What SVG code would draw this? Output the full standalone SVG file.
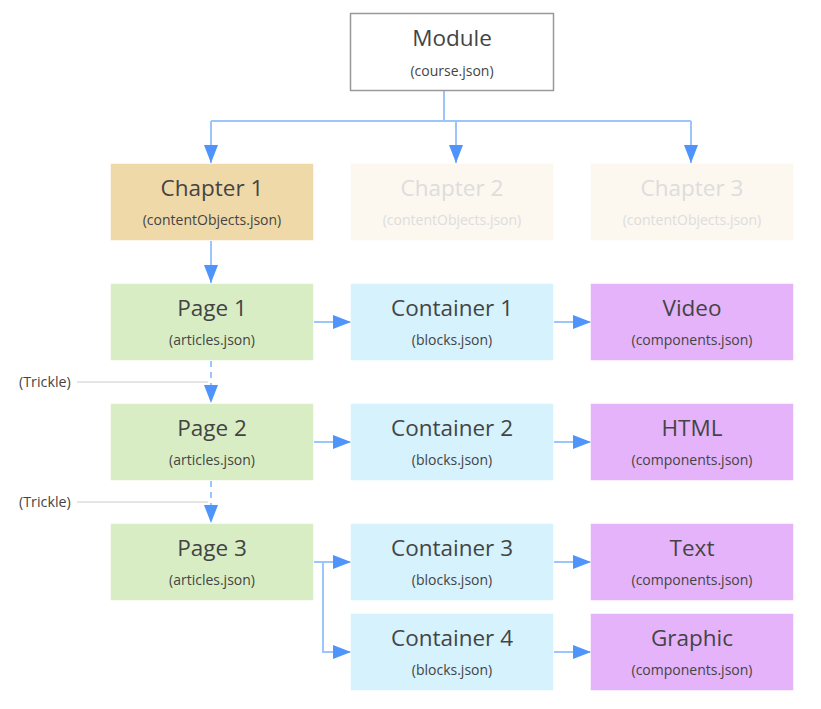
<svg xmlns="http://www.w3.org/2000/svg" width="821" height="709" viewBox="0 0 821 709">
<style>
.t{font-family:"Open Sans","Noto Sans",sans-serif;font-size:22.5px;fill:#444;text-anchor:middle}
.s{font-family:"Open Sans","Noto Sans",sans-serif;font-size:14px;fill:#444;text-anchor:middle}
.f .t,.f .s{fill:#ddd}
.box{stroke:#fff;stroke-opacity:.5;stroke-width:1}
.ch{fill:#f0d9a8}.fd{fill:#fcf7ef}.pg{fill:#d8edc4}.ct{fill:#d5f2fd}.cp{fill:#e5b3fa}
.c{fill:none;stroke:#9cc6fb;stroke-width:2}
.d{stroke-dasharray:6 5}
.tr{font-family:"Open Sans","Noto Sans",sans-serif;font-size:14.3px;fill:#444}
.g{stroke:#ccc;stroke-width:1}
</style>
<defs>
<marker id="a" markerUnits="userSpaceOnUse" markerWidth="18" markerHeight="14" viewBox="0 0 18 14" refX="18" refY="7" orient="auto">
<path d="M0,0 L18,7 L0,14 z" fill="#4f94fa"/>
</marker>
</defs>
<rect width="821" height="709" fill="#fff"/>
<g id="connectors">
<path class="c" d="M444,91 V121 M211,121 H691"/>
<path class="c" d="M211,121 V163" marker-end="url(#a)"/>
<path class="c" d="M456,121 V163" marker-end="url(#a)"/>
<path class="c" d="M691,121 V163" marker-end="url(#a)"/>
<path class="c" d="M211,241 V283" marker-end="url(#a)"/>
<path class="c d" d="M211,361 V403" marker-end="url(#a)"/>
<path class="c d" d="M211,481 V523" marker-end="url(#a)"/>
<path class="c" d="M314,322 H351" marker-end="url(#a)"/>
<path class="c" d="M554,322 H591" marker-end="url(#a)"/>
<path class="c" d="M314,442 H351" marker-end="url(#a)"/>
<path class="c" d="M554,442 H591" marker-end="url(#a)"/>
<path class="c" d="M314,562 H351" marker-end="url(#a)"/>
<path class="c" d="M323,562 V652 H351" marker-end="url(#a)"/>
<path class="c" d="M554,562 H591" marker-end="url(#a)"/>
<path class="c" d="M554,652 H591" marker-end="url(#a)"/>
<line class="g" x1="77" y1="382" x2="208" y2="382"/>
<line class="g" x1="77" y1="502" x2="208" y2="502"/>
<text class="tr" x="19" y="387">(Trickle)</text>
<text class="tr" x="19" y="507">(Trickle)</text>
</g>
<g id="module">
<rect x="350.5" y="13.5" width="203" height="77" fill="#fff" stroke="#999" stroke-width="1.5"/>
<text class="t" x="452" y="46">Module</text>
<text class="s" x="452" y="76">(course.json)</text>
</g>
<g id="chapter1">
<rect class="box ch" x="110.5" y="163.5" width="203" height="77"/>
<text class="t" x="212" y="196">Chapter 1</text>
<text class="s" x="212" y="225">(contentObjects.json)</text>
</g>
<g id="chapter2" class="f">
<rect class="box fd" x="350.5" y="163.5" width="203" height="77"/>
<text class="t" x="452" y="196">Chapter 2</text>
<text class="s" x="452" y="225">(contentObjects.json)</text>
</g>
<g id="chapter3" class="f">
<rect class="box fd" x="590.5" y="163.5" width="203" height="77"/>
<text class="t" x="692" y="196">Chapter 3</text>
<text class="s" x="692" y="225">(contentObjects.json)</text>
</g>
<g id="page1">
<rect class="box pg" x="110.5" y="283.5" width="203" height="77"/>
<text class="t" x="212" y="316">Page 1</text>
<text class="s" x="212" y="345">(articles.json)</text>
</g>
<g id="container1">
<rect class="box ct" x="350.5" y="283.5" width="203" height="77"/>
<text class="t" x="452" y="316">Container 1</text>
<text class="s" x="452" y="345">(blocks.json)</text>
</g>
<g id="video">
<rect class="box cp" x="590.5" y="283.5" width="203" height="77"/>
<text class="t" x="692" y="316">Video</text>
<text class="s" x="692" y="345">(components.json)</text>
</g>
<g id="page2">
<rect class="box pg" x="110.5" y="403.5" width="203" height="77"/>
<text class="t" x="212" y="436">Page 2</text>
<text class="s" x="212" y="465">(articles.json)</text>
</g>
<g id="container2">
<rect class="box ct" x="350.5" y="403.5" width="203" height="77"/>
<text class="t" x="452" y="436">Container 2</text>
<text class="s" x="452" y="465">(blocks.json)</text>
</g>
<g id="html">
<rect class="box cp" x="590.5" y="403.5" width="203" height="77"/>
<text class="t" x="692" y="436">HTML</text>
<text class="s" x="692" y="465">(components.json)</text>
</g>
<g id="page3">
<rect class="box pg" x="110.5" y="523.5" width="203" height="77"/>
<text class="t" x="212" y="556">Page 3</text>
<text class="s" x="212" y="585">(articles.json)</text>
</g>
<g id="container3">
<rect class="box ct" x="350.5" y="523.5" width="203" height="77"/>
<text class="t" x="452" y="556">Container 3</text>
<text class="s" x="452" y="585">(blocks.json)</text>
</g>
<g id="text">
<rect class="box cp" x="590.5" y="523.5" width="203" height="77"/>
<text class="t" x="692" y="556">Text</text>
<text class="s" x="692" y="585">(components.json)</text>
</g>
<g id="container4">
<rect class="box ct" x="350.5" y="613.5" width="203" height="77"/>
<text class="t" x="452" y="646">Container 4</text>
<text class="s" x="452" y="675">(blocks.json)</text>
</g>
<g id="graphic">
<rect class="box cp" x="590.5" y="613.5" width="203" height="77"/>
<text class="t" x="692" y="646">Graphic</text>
<text class="s" x="692" y="675">(components.json)</text>
</g>
</svg>
